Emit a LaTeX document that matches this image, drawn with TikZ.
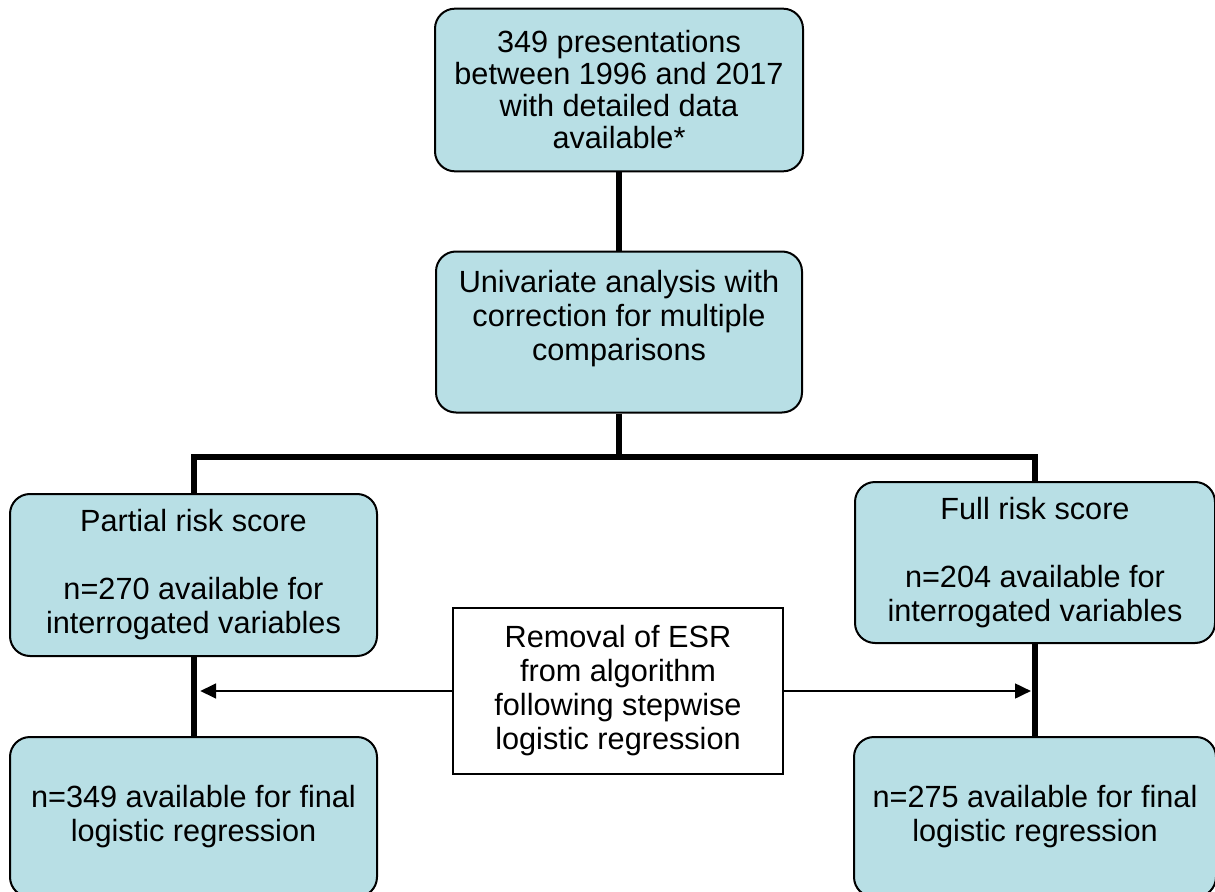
\documentclass[tikz,border=0pt]{standalone}
\usepackage{fontspec}
\setmainfont{Liberation Sans}
\usetikzlibrary{arrows.meta}
\definecolor{boxblue}{RGB}{184,223,229}

\begin{document}
\begin{tikzpicture}[x=0.75pt, y=-0.75pt,
    box/.style={draw, line width=1.5pt, rounded corners=15pt, fill=boxblue, align=center,
        inner sep=0pt, font=\fontsize{23}{25.5}\selectfont},
    note/.style={draw, line width=1.5pt, fill=white, align=center,
        inner sep=0pt, font=\fontsize{23}{25.5}\selectfont},
    flow/.style={line width=4.5pt},
    side/.style={-{Triangle[length=12pt,width=11pt]}, line width=2pt}]

    \useasboundingbox (0,0) rectangle (1215,892);
    \clip (0,0) rectangle (1215,892);

    \node[box, minimum width=276pt, minimum height=122pt, font=\fontsize{23}{24}\selectfont] (A) at (619,90) {349 presentations\\between 1996 and 2017\\with detailed data\\available*};
    \node[box, minimum width=274.5pt, minimum height=120.75pt] (U) at (619,332) {Univariate analysis with\\correction for multiple\\comparisons\\ \mbox{}};

    \node[box, minimum width=275.25pt, minimum height=121.5pt] (PR) at (193.5,575) {Partial risk score\\ \mbox{}\\n=270 available for\\interrogated variables};
    \node[box, minimum width=270pt, minimum height=120.75pt] (FR) at (1035,562.5) {Full risk score\\ \mbox{}\\n=204 available for\\interrogated variables};

    \node[box, minimum width=275.25pt, minimum height=120pt] (PF) at (193.5,817) {n=349 available for final\\logistic regression};
    \node[box, minimum width=271.5pt, minimum height=120pt] (FF) at (1035,817) {n=275 available for final\\logistic regression};

    \node[note, minimum width=247.5pt, minimum height=124.5pt] (E) at (618,691) {Removal of ESR\\from algorithm\\following stepwise\\logistic regression};

    \coordinate (S) at (619,457);
    \draw[flow] (A.south) -- (U.north);
    \draw[flow] (U.south) -- (S);
    \draw[flow] (PR.north) |- (S) -| (FR.north);
    \draw[flow] (PR.south) -- (PF.north);
    \draw[flow] (FR.south) -- (FF.north);

    \draw[side, shorten >=5pt] (E.west) -- (E.west -| PR.south);
    \draw[side, shorten >=3pt] (E.east) -- (E.east -| FR.south);

\end{tikzpicture}
\end{document}
